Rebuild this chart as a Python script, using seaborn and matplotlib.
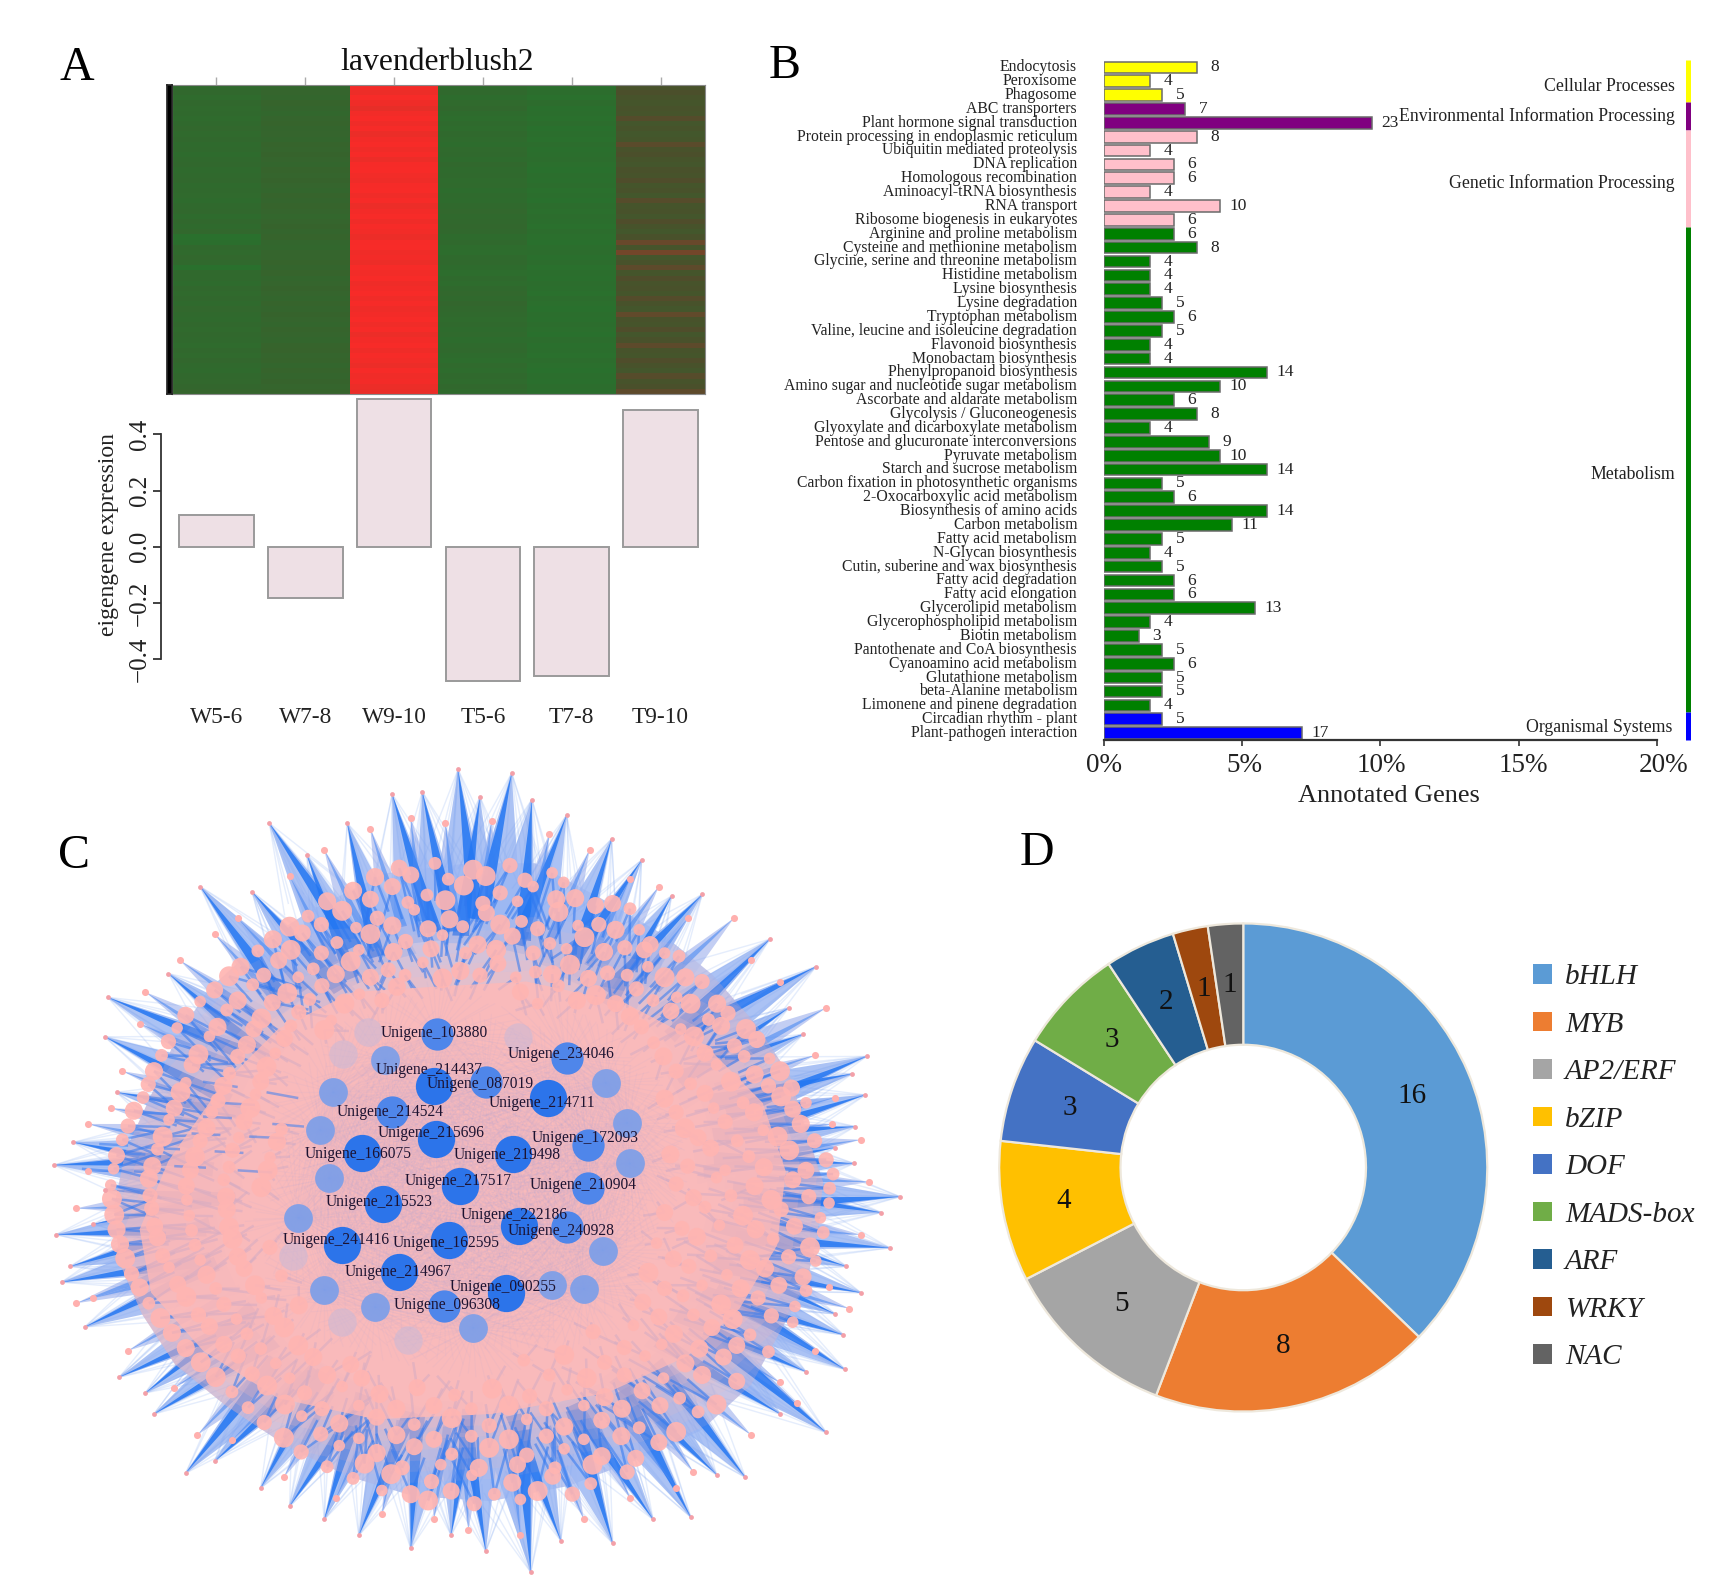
import matplotlib
matplotlib.use("Agg")
import matplotlib.pyplot as plt
from matplotlib.collections import LineCollection, PolyCollection
from matplotlib.colors import LinearSegmentedColormap
from matplotlib.patches import Patch, Polygon
from matplotlib.transforms import ScaledTranslation
import numpy as np
import pandas as pd
import seaborn as sns

W, H = 1720, 1587

# panel A
SAMPLES = ["W5-6", "W7-8", "W9-10", "T5-6", "T7-8", "T9-10"]
EIGENGENE = [0.114, -0.183, 0.528, -0.480, -0.459, 0.489]
HEAT_W56 = [-.62, -.60, -.65, -.59, -.63, -.61, -.65, -.62, -.58, -.63, -.60, -.64, -.61, -.66, -.62, -.60, -.64, -.62, -.60, -.64,
            -.61, -.63, -.66, -.62, -.60, -.66, -.60, -.64, -.58, -.76, -.72, -.60, -.63, -.58, -.61, -.78, -.62, -.62, -.66, -.59,
            -.63, -.60, -.64, -.58, -.61, -.64, -.60, -.63, -.59, -.62, -.65, -.60, -.63, -.57, -.61, -.64, -.60, -.58, -.55, -.52]
HEAT_W78 = [-.56, -.52, -.55, -.50, -.53, -.57, -.52, -.49, -.53, -.51, -.55, -.49, -.52, -.48, -.51, -.54, -.50, -.52, -.48, -.51,
            -.55, -.50, -.53, -.49, -.51, -.56, -.51, -.48, -.53, -.50, -.54, -.57, -.51, -.52, -.49, -.53, -.50, -.55, -.51, -.48,
            -.52, -.55, -.50, -.53, -.48, -.51, -.54, -.49, -.52, -.55, -.50, -.47, -.52, -.49, -.54, -.50, -.53, -.48, -.51, -.49]
HEAT_W910 = [.96, .92, .97, .93, .88, .95, .98, .93, .97, .91, .96, .98, .94, .97, .92, .97, .98, .95, .93, .97,
             .98, .94, .97, .92, .96, .98, .93, .97, .95, .92, .97, .98, .94, .96, .92, .97, .95, .98, .93, .96,
             .98, .94, .97, .93, .96, .98, .94, .97, .92, .96, .98, .93, .97, .95, .92, .97, .94, .96, .92, .90]
HEAT_T56 = [-.66, -.62, -.68, -.63, -.60, -.66, -.69, -.64, -.67, -.62, -.65, -.68, -.63, -.62, -.66, -.60, -.64, -.62, -.65, -.63,
            -.68, -.64, -.66, -.61, -.58, -.62, -.60, -.57, -.60, -.66, -.62, -.67, -.69, -.64, -.61, -.66, -.69, -.64, -.67, -.62,
            -.58, -.61, -.55, -.59, -.62, -.65, -.61, -.66, -.63, -.68, -.64, -.61, -.66, -.69, -.63, -.67, -.62, -.65, -.60, -.63]
HEAT_T78 = [-.74, -.70, -.76, -.68, -.75, -.72, -.76, -.70, -.77, -.73, -.76, -.71, -.75, -.73, -.70, -.74, -.77, -.72, -.75, -.71,
            -.76, -.73, -.77, -.71, -.74, -.70, -.73, -.76, -.71, -.74, -.77, -.73, -.70, -.75, -.71, -.76, -.73, -.75, -.70, -.73,
            -.76, -.71, -.74, -.77, -.72, -.75, -.70, -.74, -.77, -.71, -.75, -.72, -.76, -.70, -.74, -.77, -.72, -.75, -.71, -.73]
HEAT_T910 = [-.08, -.02, -.12, -.16, -.10, -.14, .04, -.18, -.12, -.20, -.16, .08, -.10, -.02, -.14, -.18, -.06, -.12, .02, -.16,
             -.10, -.20, .06, -.14, -.08, -.18, .02, -.12, -.20, -.06, .16, -.14, .22, -.18, -.10, .10, -.16, .02, -.12, -.06,
             -.16, .04, -.10, -.18, .12, -.08, -.14, .02, -.18, -.06, .10, -.12, -.16, .02, -.08, -.18, .06, -.12, -.04, .10]

# panel B
PATHWAYS = [
    "Endocytosis", "Peroxisome", "Phagosome", "ABC transporters", "Plant hormone signal transduction",
    "Protein processing in endoplasmic reticulum", "Ubiquitin mediated proteolysis", "DNA replication",
    "Homologous recombination", "Aminoacyl-tRNA biosynthesis", "RNA transport", "Ribosome biogenesis in eukaryotes",
    "Arginine and proline metabolism", "Cysteine and methionine metabolism", "Glycine, serine and threonine metabolism",
    "Histidine metabolism", "Lysine biosynthesis", "Lysine degradation", "Tryptophan metabolism",
    "Valine, leucine and isoleucine degradation", "Flavonoid biosynthesis", "Monobactam biosynthesis",
    "Phenylpropanoid biosynthesis", "Amino sugar and nucleotide sugar metabolism", "Ascorbate and aldarate metabolism",
    "Glycolysis / Gluconeogenesis", "Glyoxylate and dicarboxylate metabolism", "Pentose and glucuronate interconversions",
    "Pyruvate metabolism", "Starch and sucrose metabolism", "Carbon fixation in photosynthetic organisms",
    "2-Oxocarboxylic acid metabolism", "Biosynthesis of amino acids", "Carbon metabolism", "Fatty acid metabolism",
    "N-Glycan biosynthesis", "Cutin, suberine and wax biosynthesis", "Fatty acid degradation", "Fatty acid elongation",
    "Glycerolipid metabolism", "Glycerophospholipid metabolism", "Biotin metabolism",
    "Pantothenate and CoA biosynthesis", "Cyanoamino acid metabolism", "Glutathione metabolism",
    "beta-Alanine metabolism", "Limonene and pinene degradation", "Circadian rhythm - plant",
    "Plant-pathogen interaction",
]
GENE_COUNTS = [8, 4, 5, 7, 23, 8, 4, 6, 6, 4, 10, 6, 6, 8, 4, 4, 4, 5, 6, 5, 4, 4, 14, 10, 6, 8, 4, 9, 10, 14, 5, 6, 14, 11,
               5, 4, 5, 6, 6, 13, 4, 3, 5, 6, 5, 5, 4, 5, 17]
ANNOTATED_TOTAL = 237
KEGG_CLASSES = ["Cellular Processes", "Environmental Information Processing", "Genetic Information Processing",
                "Metabolism", "Organismal Systems"]
CLASS_SIZES = [3, 2, 7, 35, 2]
CLASS_COLORS = ["#ffff00", "#800080", "#ffc0cb", "#008000", "#0000ff"]

# panel C, node positions
HUB_LABELS = ["103880", "234046", "214437", "087019", "214711", "214524", "215696", "172093", "166075", "219498",
              "217517", "210904", "215523", "222186", "240928", "241416", "162595", "214967", "090255", "096308"]
HUB_X = [705, 930, 700, 790, 897, 628, 703, 968, 575, 838, 745, 967, 612, 848, 930, 540, 727, 640, 825, 718]
HUB_Y = [520, 565, 618, 610, 640, 668, 718, 730, 745, 747, 807, 812, 842, 883, 885, 920, 910, 970, 1010, 1035]
HUB_LABEL_X = [700, 920, 692, 780, 888, 625, 695, 962, 568, 828, 742, 958, 605, 840, 920, 530, 722, 638, 820, 723]
HUB_LABEL_Y = [518, 558, 588, 615, 650, 667, 708, 716, 747, 749, 798, 806, 838, 862, 893, 910, 915, 970, 1000, 1033]
HUB_STRONG = [0, 0, 1, 0, 1, 0, 1, 0, 1, 1, 1, 0, 1, 1, 0, 1, 1, 1, 1, 0]
SIDE_X = [615, 1035, 998, 525, 503, 518, 465, 510, 598, 768, 960, 905, 993, 1040]
SIDE_Y = [568, 688, 612, 630, 702, 793, 868, 1005, 1038, 1077, 1003, 995, 930, 765]
PALE_X = [543, 845, 455, 540, 655, 585]
PALE_Y = [558, 525, 940, 1065, 1100, 515]
TIP_X = [742, 835, 628, 550, 415, 295, 680, 780, 870, 930, 1008, 1060, 1112, 1165, 1282, 1362, 1315, 1340, 1450, 1425, 1448,
         1430, 1395, 1428, 1508, 1475, 1490, 1415, 1440, 1395, 1410, 1412, 1345, 1380, 1300, 1240, 1190, 1145, 1080, 1010,
         920, 868, 790, 730, 660, 570, 510, 450, 400, 320, 270, 215, 200, 155, 95, 55, 70, 45, 110, 130, 42, 75, 150, 130,
         135, 240, 385, 480]
TIP_Y = [18, 25, 65, 120, 120, 240, 60, 70, 75, 105, 150, 190, 258, 255, 340, 392, 470, 520, 562, 595, 635,
         695, 735, 765, 828, 858, 925, 960, 1010, 1050, 1090, 1155, 1160, 1275, 1240, 1360, 1355, 1435, 1440, 1485,
         1480, 1540, 1500, 1470, 1495, 1470, 1440, 1415, 1380, 1330, 1352, 1240, 1200, 1170, 1075, 990, 960, 900, 880, 815,
         768, 725, 630, 525, 450, 405, 250, 180]
SHORT_TIP_X = [590, 660, 720, 800, 900, 970, 1040, 1090, 1140, 1220, 1250, 1300, 1380, 1360, 1395, 1390, 1440, 1455, 1440, 1385, 1420,
               1360, 1300, 1330, 1250, 1150, 1120, 1040, 960, 850, 760, 700, 610, 530, 440, 350, 290, 250, 170, 110, 80, 80, 100,
               100, 140, 160, 190, 200, 260, 320, 360, 450, 510]
SHORT_TIP_Y = [130, 110, 120, 115, 140, 170, 225, 240, 300, 300, 380, 420, 470, 560, 640, 690, 720, 800, 900, 1000, 1040,
               1120, 1180, 1220, 1280, 1350, 1380, 1400, 1440, 1470, 1460, 1440, 1430, 1400, 1360, 1290, 1280, 1190, 1120, 1020, 1030, 850, 780,
               690, 660, 590, 500, 440, 380, 330, 300, 220, 170]
RIM_X = [760, 880, 1000, 1110, 1200, 1280, 1340, 1370, 1400, 1390, 1370, 1320, 1270, 1180, 1060, 940, 800, 660, 540, 430,
         320, 230, 170, 130, 120, 140, 190, 230, 290, 380, 480, 610]
RIM_Y = [170, 170, 240, 310, 390, 490, 590, 700, 800, 900, 1000, 1100, 1200, 1290, 1350, 1400, 1430, 1420, 1380, 1320,
         1240, 1160, 1060, 960, 850, 740, 620, 520, 420, 330, 260, 190]
CORE_X = [700, 860, 1030, 1170, 1270, 1310, 1295, 1230, 1140, 1000, 800, 600, 430, 300, 210, 190, 240, 330, 430, 560]
CORE_Y = [430, 420, 460, 540, 650, 780, 920, 1040, 1130, 1200, 1240, 1250, 1210, 1120, 1010, 890, 760, 620, 510, 440]
DASH_X0 = [190, 300, 160, 280, 380, 230, 330, 200, 320, 150, 420, 250, 360, 300, 410, 180, 120, 90]
DASH_Y0 = [668, 676, 700, 708, 714, 640, 650, 735, 742, 745, 690, 770, 778, 610, 630, 780, 728, 775]
DASH_X1 = [250, 350, 220, 330, 440, 280, 390, 260, 370, 200, 475, 305, 420, 360, 465, 230, 170, 135]
DASH_Y1 = [672, 679, 704, 711, 717, 645, 654, 738, 745, 748, 695, 773, 782, 620, 641, 783, 731, 779]
NODE_XY = [
    (640, 205), (702, 196), (768, 208), (832, 200), (905, 214), (560, 248), (628, 240), (688, 256), (752, 238), (815, 252),
    (872, 240), (945, 262), (1010, 272), (482, 296), (541, 286), (602, 300), (666, 284), (727, 302), (791, 290), (852, 306),
    (916, 288), (986, 312), (1056, 322), (421, 340), (472, 328), (532, 346), (590, 330), (651, 344), (715, 332), (776, 350),
    (836, 334), (901, 348), (961, 336), (1031, 356), (1100, 366), (365, 392), (431, 380), (491, 396), (556, 382), (621, 398),
    (681, 384), (746, 400), (811, 386), (876, 402), (936, 388), (1001, 404), (1071, 392), (1136, 412), (320, 436), (386, 426),
    (446, 442), (506, 428), (571, 444), (636, 430), (850, 440), (916, 428), (981, 446), (1051, 434), (1121, 450), (1191, 462),
    (270, 484), (341, 474), (401, 490), (466, 478), (522, 494), (1040, 486), (1111, 476), (1176, 492), (1241, 510), (240, 534),
    (311, 524), (376, 540), (441, 528), (1081, 536), (1151, 524), (1221, 542), (1282, 566), (215, 590), (281, 578), (346, 594),
    (410, 582), (1120, 590), (1190, 578), (1256, 596), (1320, 622), (196, 640), (261, 630), (326, 646), (391, 634), (1100, 642),
    (1170, 632), (1236, 650), (1302, 638), (170, 694), (241, 682), (306, 698), (371, 686), (436, 700), (1135, 698), (1205, 686),
    (1271, 702), (1336, 690), (150, 750), (221, 738), (286, 752), (351, 740), (416, 754), (1110, 748), (1180, 736), (1246, 752),
    (1316, 740), (1380, 758), (140, 806), (206, 794), (271, 808), (336, 796), (401, 810), (1120, 804), (1190, 792), (1256, 808),
    (1322, 796), (1386, 812), (146, 862), (211, 850), (276, 864), (341, 852), (1100, 858), (1170, 848), (1236, 864), (1302, 852),
    (1370, 868), (156, 918), (221, 906), (286, 920), (351, 908), (416, 924), (1086, 916), (1156, 904), (1222, 920), (1288, 908),
    (1352, 924), (176, 974), (241, 962), (306, 976), (371, 964), (436, 978), (1072, 972), (1142, 960), (1208, 976), (1274, 964),
    (1340, 980), (206, 1030), (271, 1018), (336, 1032), (401, 1020), (466, 1034), (1062, 1028), (1132, 1016), (1198, 1032), (1262, 1020),
    (1326, 1036), (246, 1086), (311, 1074), (376, 1088), (441, 1076), (976, 1084), (1046, 1072), (1116, 1088), (1182, 1076), (1248, 1090),
    (296, 1142), (361, 1130), (426, 1144), (491, 1132), (556, 1146), (856, 1138), (926, 1128), (996, 1142), (1066, 1130), (1136, 1144),
    (1202, 1132), (350, 1198), (411, 1186), (476, 1200), (541, 1188), (606, 1202), (671, 1190), (736, 1204), (801, 1192), (866, 1206),
    (931, 1194), (996, 1208), (1061, 1196), (1126, 1210), (1190, 1222), (406, 1256), (471, 1244), (536, 1258), (601, 1246), (666, 1260),
    (731, 1248), (796, 1262), (861, 1250), (926, 1264), (991, 1252), (1056, 1266), (1120, 1274), (470, 1312), (536, 1300), (601, 1314),
    (666, 1302), (731, 1316), (796, 1304), (861, 1318), (926, 1306), (991, 1320), (1050, 1324), (560, 1362), (626, 1354), (696, 1368),
    (766, 1356), (836, 1370), (906, 1358), (972, 1372), (690, 1404), (770, 1410), (850, 1402),
    (598, 222), (660, 218), (725, 226), (790, 220), (858, 228), (925, 232), (515, 268), (590, 264), (655, 270), (720, 266),
    (785, 272), (845, 268), (912, 264), (980, 276), (1040, 282), (450, 316), (505, 312), (565, 318), (628, 314), (690, 320),
    (750, 316), (815, 312), (880, 320), (950, 314), (1015, 322), (1075, 350), (395, 362), (452, 360), (505, 366), (570, 360),
    (630, 364), (695, 358), (755, 366), (808, 360), (872, 366), (930, 358), (995, 364), (1065, 360), (1125, 372), (345, 410),
    (405, 408), (465, 412), (530, 406), (590, 412), (650, 408), (715, 414), (780, 408), (842, 412), (905, 406), (968, 414),
    (1035, 408), (1100, 412), (1165, 420), (295, 458), (360, 456), (420, 460), (485, 454), (545, 462), (610, 456), (880, 462),
    (948, 456), (1015, 462), (1080, 456), (1145, 462), (1210, 480), (255, 508), (325, 506), (388, 510), (452, 504), (510, 512),
    (1060, 506), (1128, 510), (1198, 504), (1260, 530), (228, 560), (292, 558), (360, 562), (425, 556), (1098, 562), (1170, 556),
    (1238, 562), (1300, 590), (205, 615), (270, 612), (335, 618), (400, 610), (1145, 614), (1215, 610), (1280, 618), (1345, 650),
    (180, 665), (250, 660), (315, 668), (382, 660), (1120, 668), (1185, 660), (1255, 668), (1322, 662), (160, 720), (230, 714),
    (295, 722), (362, 716), (428, 724), (1158, 716), (1226, 722), (1296, 714), (1360, 722), (145, 775), (212, 770), (278, 778),
    (345, 772), (412, 778), (1140, 770), (1205, 778), (1272, 772), (1345, 778), (1392, 785), (142, 832), (208, 826), (272, 834),
    (340, 828), (1150, 830), (1215, 826), (1285, 834), (1350, 828), (1385, 840), (150, 890), (216, 884), (280, 892), (345, 886),
    (1130, 888), (1195, 882), (1258, 890), (1325, 884), (1375, 896), (165, 945), (230, 940), (295, 948), (360, 942), (1115, 946),
    (1180, 940), (1248, 948), (1315, 942), (1362, 950), (190, 1000), (256, 994), (322, 1002), (390, 996), (1100, 1002), (1165, 996),
    (1232, 1002), (1298, 996), (1345, 1006), (226, 1058), (292, 1052), (358, 1060), (422, 1054), (1090, 1056), (1150, 1052), (1218, 1060),
    (1285, 1054), (1322, 1066), (270, 1115), (336, 1108), (400, 1116), (465, 1110), (1030, 1114), (1095, 1108), (1160, 1116), (1225, 1110),
    (1280, 1122), (322, 1170), (385, 1164), (450, 1172), (515, 1166), (575, 1172), (900, 1166), (965, 1172), (1030, 1166), (1098, 1172),
    (1165, 1166), (1225, 1178), (378, 1228), (442, 1222), (506, 1230), (570, 1224), (635, 1230), (700, 1224), (765, 1230), (830, 1224),
    (895, 1230), (960, 1224), (1026, 1230), (1092, 1224), (1158, 1236), (440, 1285), (504, 1278), (570, 1286), (635, 1280), (700, 1288),
    (765, 1282), (830, 1288), (895, 1282), (960, 1288), (1025, 1282), (1090, 1294), (515, 1340), (580, 1334), (645, 1342), (712, 1336),
    (778, 1342), (845, 1336), (910, 1342), (975, 1336), (1035, 1350), (610, 1385), (660, 1392), (730, 1386), (805, 1392), (880, 1386),
    (940, 1392),
]

# panel D
TF_FAMILIES = ["bHLH", "MYB", "AP2/ERF", "bZIP", "DOF", "MADS-box", "ARF", "WRKY", "NAC"]
TF_COUNTS = [16, 8, 5, 4, 3, 3, 2, 1, 1]
TF_COLORS = ["#5b9bd5", "#ed7d31", "#a5a5a5", "#ffc000", "#4472c4", "#70ad47", "#255e91", "#9e480e", "#636363"]

sns.set_theme(style="white")
plt.rcParams["font.family"] = ["Liberation Serif", "DejaVu Serif"]

fig = plt.figure(figsize=(W / 100, H / 100), dpi=100, facecolor="white")


def axes_px(x0, y0, x1, y1):
    return fig.add_axes([x0 / W, 1 - y1 / H, (x1 - x0) / W, (y1 - y0) / H])


def fig_text(x, y, text, **kwargs):
    fig.text(x / W, 1 - y / H, text, **kwargs)


def scaled(points, factor):
    centre = points.mean(axis=0)
    return centre + (points - centre) * factor


def toward(starts, ends, fraction):
    return [[a, a + (b - a) * fraction] for a, b in zip(starts, ends)]


def fan(outer, targets, n_nearest, fraction):
    segments = []
    for tip in outer:
        nearest = targets[np.argsort(np.hypot(*(targets - tip).T))[:n_nearest]]
        segments.extend(toward(np.repeat([tip], n_nearest, axis=0), nearest, fraction))
    return segments


def spikes(outer, centre, fraction, left, right):
    # narrow triangle from the outer node back towards the hub cloud
    triangles = []
    for i, tip in enumerate(outer):
        axis = (centre - tip) * fraction
        normal = np.array([-axis[1], axis[0]])
        side = 1 if i % 2 else -1
        triangles.append([tip, tip + axis + normal * left * side, tip + axis + normal * right * side])
    return triangles


for letter, x, y in [("A", 60, 80), ("B", 769, 78), ("C", 58, 868), ("D", 1020, 865)]:
    fig_text(x, y, letter, fontsize=34.5, color="black", ha="left", va="baseline")

# A: heatmap on top of the eigengene bars
heat_cmap = LinearSegmentedColormap.from_list("module", ["#1f7a2e", "#4c4e2b", "#fa2a28"])
heat = pd.DataFrame({"W5-6": HEAT_W56, "W7-8": HEAT_W78, "W9-10": HEAT_W910, "T5-6": HEAT_T56,
                     "T7-8": HEAT_T78, "T9-10": HEAT_T910})
ax_heat = axes_px(172, 85, 705, 394)
sns.heatmap(heat, ax=ax_heat, cmap=heat_cmap, vmin=-1, vmax=1, cbar=False, xticklabels=False, yticklabels=False)
ax_heat.xaxis.tick_top()
ax_heat.set_xticks(np.arange(len(SAMPLES)) + 0.5)
ax_heat.tick_params(axis="x", length=5.5, width=1, color="#aaaaaa", top=True, bottom=False, labeltop=False)
for spine in ax_heat.spines.values():
    spine.set_visible(True)
    spine.set_color("#8a8a8a")
    spine.set_linewidth(0.8)
ax_strip = axes_px(167, 85, 172, 394)
ax_strip.set_facecolor("black")
ax_strip.set_xticks([])
ax_strip.set_yticks([])
fig_text(437, 62, "lavenderblush2", fontsize=22.8, ha="center", va="center", color="#111111")

ax_bar = axes_px(172, 398, 705, 682)
sns.barplot(x=SAMPLES, y=EIGENGENE, ax=ax_bar, color="#eee0e5", saturation=1, width=0.84, edgecolor="#9a9a9a", linewidth=1.4)
sns.despine(ax=ax_bar, top=True, right=True, bottom=True, left=False)
ax_bar.spines["left"].set_position(("outward", 8))
ax_bar.set_xlim(-0.5, 5.5)
ax_bar.set_ylim(-0.482, 0.53)
ax_bar.set_yticks([-0.4, -0.2, 0.0, 0.2, 0.4])
ax_bar.set_yticklabels(["\u22120.4", "\u22120.2", "0.0", "0.2", "0.4"], rotation=90, va="center", fontsize=18, color="#222222")
ax_bar.tick_params(axis="y", left=True, length=5.5, width=1.3, color="#333333", pad=1.5)
ax_bar.tick_params(axis="x", bottom=False, length=0, pad=18, labelsize=16.8, labelcolor="#222222")
ax_bar.spines["left"].set_bounds(-0.4, 0.4)
ax_bar.spines["left"].set_color("#333333")
ax_bar.spines["left"].set_linewidth(1.3)
ax_bar.patch.set_alpha(0)
fig_text(108, 535, "eigengene expression", fontsize=17, rotation=90, ha="center", va="center", color="#222222")

# B: KEGG classes
pathway_class = [name for name, n in zip(KEGG_CLASSES, CLASS_SIZES) for _ in range(n)]
kegg = pd.DataFrame({"pathway": PATHWAYS, "count": GENE_COUNTS, "kegg_class": pathway_class})
kegg["pct"] = kegg["count"] / ANNOTATED_TOTAL * 100

ax_kegg = axes_px(1103.5, 60.4, 1657, 740)
sns.barplot(data=kegg, y="pathway", x="pct", hue="kegg_class", hue_order=KEGG_CLASSES, palette=CLASS_COLORS,
            dodge=False, width=0.84, saturation=1, edgecolor="#6a6a6a", linewidth=1.1, legend=False, ax=ax_kegg)
ax_kegg.set_xlim(0, 20)
ax_kegg.set_ylim(48.5, -0.5)
ax_kegg.set_xticks([0, 5, 10, 15, 20])
ax_kegg.set_xticklabels(["0%", "5%", "10%", "15%", "20%"], fontsize=19.5, color="#222222")
ax_kegg.tick_params(axis="x", bottom=True, length=4.5, width=1.2, color="#333333", pad=5)
ax_kegg.tick_params(axis="y", left=False, length=0, pad=19, labelsize=11.3, labelcolor="#222222")
shift = ScaledTranslation(0, 1.5 / 72, fig.dpi_scale_trans)
for label in ax_kegg.get_yticklabels():
    label.set_transform(label.get_transform() + shift)
for label, nudge in zip(ax_kegg.get_xticklabels(), [0.5, 2, 1, 3.5, 5]):
    label.set_transform(label.get_transform() + ScaledTranslation(nudge / 72, 0, fig.dpi_scale_trans))
ax_kegg.set_ylabel("")
ax_kegg.set_xlabel("Annotated Genes", fontsize=18.9, color="#222222", va="center")
ax_kegg.xaxis.set_label_coords(0.515, -0.082)
sns.despine(ax=ax_kegg, top=True, right=True, left=True)
ax_kegg.spines["bottom"].set_color("#333333")
ax_kegg.spines["bottom"].set_linewidth(1.6)
ax_kegg.patch.set_alpha(0)
for i, count in enumerate(GENE_COUNTS):
    ax_kegg.annotate(str(count), (count / ANNOTATED_TOTAL * 100, i), xytext=(13, 0), textcoords="offset points",
                     ha="center", va="center", fontsize=12.5, color="#222222")

strip_trans = ax_kegg.get_yaxis_transform()
class_label_y = [86.5, 116, 183, 474.5, 727]
class_label_right = [1675, 1675, 1675, 1675, 1672]
start = -0.5
for name, size, color, label_y, label_x in zip(KEGG_CLASSES, CLASS_SIZES, CLASS_COLORS, class_label_y, class_label_right):
    ax_kegg.vlines(1.056, start, start + size, transform=strip_trans, colors=color, linewidth=3.6,
                   clip_on=False, capstyle="butt")
    fig_text(label_x, label_y, name, fontsize=12.75, ha="right", va="center", color="#222222")
    start += size

# C: co-expression network, coordinates in the frame of the reference crop
ax_net = axes_px(30, 760, 930, 1587)
ax_net.set_xlim(0, 1560)
ax_net.set_ylim(1568, 0)
ax_net.axis("off")

hubs = np.column_stack([HUB_X + SIDE_X, HUB_Y + SIDE_Y])
tips = np.column_stack([TIP_X, TIP_Y])
short_tips = np.column_stack([SHORT_TIP_X, SHORT_TIP_Y])
nodes = np.array(NODE_XY)
rim = scaled(np.column_stack([RIM_X, RIM_Y]), 0.96)
core = np.column_stack([CORE_X, CORE_Y])
hub_centre = hubs.mean(axis=0)

rim_patch = Polygon(rim, closed=True, facecolor="#b6c2ee", edgecolor="none", alpha=0.9, zorder=1)
ax_net.add_patch(rim_patch)

# spikes: pale body with a saturated sliver down one side, thin lines over them
ax_net.add_collection(PolyCollection(spikes(short_tips, hub_centre, 0.3, -0.17, 0.17), facecolors="#b4c2f0", edgecolors="none", alpha=0.8, zorder=2))
ax_net.add_collection(PolyCollection(spikes(tips, hub_centre, 0.38, -0.16, 0.18), facecolors="#9db8f3", edgecolors="none", alpha=0.85, zorder=2))
ax_net.add_collection(LineCollection(fan(tips, hubs, 10, 0.3), colors="#7ea6f2", linewidths=1.0, alpha=0.2, zorder=2))
ax_net.add_collection(PolyCollection(spikes(tips, hub_centre, 0.36, 0.04, 0.15), facecolors="#2477f2", edgecolors="none", alpha=0.85, zorder=2.2))
ax_net.add_collection(PolyCollection(spikes(short_tips, hub_centre, 0.28, 0.0, 0.09), facecolors="#4a8af2", edgecolors="none", alpha=0.6, zorder=2.2))

streak_from = []
streak_to = []
for node in nodes:
    order = np.argsort(np.hypot(*(hubs - node).T))
    streak_from.extend([node, node])
    streak_to.extend([hubs[order[0]], hubs[order[3]]])

for factor, alpha in [(1.3, 0.1), (1.25, 0.1), (1.2, 0.12), (1.15, 0.14), (1.1, 0.18), (1.05, 0.22)]:
    halo = Polygon(scaled(core, factor), closed=True, facecolor="#ffbcba", edgecolor="none", alpha=alpha, zorder=3)
    ax_net.add_patch(halo)
    halo.set_clip_path(rim_patch)
ax_net.add_collection(LineCollection(toward(np.array(streak_from), np.array(streak_to), 0.22), colors="#2f78f0", linewidths=1.8,
                                     alpha=0.55, zorder=3.5))
ax_net.add_patch(Polygon(core, closed=True, facecolor="#ffb9b7", edgecolor="none", alpha=0.8, zorder=4))
core_fan = toward(np.tile(hubs, (len(tips), 1)), np.repeat(tips, len(hubs), axis=0), 0.22)
ax_net.add_collection(LineCollection(core_fan, colors="#8b9ee8", linewidths=0.8, alpha=0.06, zorder=4.2))
dashes = np.column_stack([DASH_X0, DASH_Y0, DASH_X1, DASH_Y1]).reshape(-1, 2, 2)
ax_net.add_collection(LineCollection(dashes, colors="#3f80f0", linewidths=1.8, alpha=0.55, zorder=4.6))

node_frame = pd.DataFrame(nodes, columns=["x", "y"])
node_frame["area"] = np.resize([150, 85, 205, 120, 70, 170], len(node_frame))
sns.scatterplot(data=node_frame, x="x", y="y", size="area", sizes=(70, 205), legend=False, color="#ffb5b2", linewidth=0, alpha=0.92,
                ax=ax_net, zorder=5)
sns.scatterplot(x=TIP_X, y=TIP_Y, s=12, color="#f3a0a8", linewidth=0, ax=ax_net, zorder=5)
sns.scatterplot(x=SHORT_TIP_X, y=SHORT_TIP_Y, s=26, color="#ffb0ae", linewidth=0, ax=ax_net, zorder=5)
sns.scatterplot(x=PALE_X, y=PALE_Y, s=420, color="#c9b9d8", linewidth=0, alpha=0.55, ax=ax_net, zorder=6)
sns.scatterplot(x=SIDE_X, y=SIDE_Y, s=430, color="#7f9fe8", linewidth=0, alpha=0.95, ax=ax_net, zorder=6)

hub_frame = pd.DataFrame({"x": HUB_X, "y": HUB_Y, "strong": HUB_STRONG})
weak = hub_frame[hub_frame["strong"] == 0]
strong = hub_frame[hub_frame["strong"] == 1]
sns.scatterplot(data=weak, x="x", y="y", s=540, color="#4f86ea", linewidth=0, ax=ax_net, zorder=7)
sns.scatterplot(data=strong, x="x", y="y", s=720, color="#2c74ea", linewidth=0, ax=ax_net, zorder=7)
ax_net.set_xlabel("")
ax_net.set_ylabel("")
ax_net.set_xlim(0, 1560)
ax_net.set_ylim(1568, 0)
for name, x, y in zip(HUB_LABELS, HUB_LABEL_X, HUB_LABEL_Y):
    ax_net.text(x, y, "Unigene_" + name, fontsize=11.2, ha="center", va="center", color="#1c1230", zorder=8)

# D: transcription factor families
ax_pie = axes_px(998, 922, 1488.5, 1413)
wedges, pie_texts = ax_pie.pie(TF_COUNTS, colors=TF_COLORS, labels=TF_COUNTS, labeldistance=0.75, startangle=90, counterclock=False,
                               radius=1, wedgeprops={"width": 0.497, "edgecolor": "#eee8dc", "linewidth": 1.6})
for text in pie_texts:
    text.set_ha("center")
    text.set_va("center")
    text.set_fontsize(21)
    text.set_color("#111111")
ax_pie.set_xlim(-1.005, 1.005)
ax_pie.set_ylim(-1.005, 1.005)

handles = [Patch(facecolor=c, edgecolor="none", label=name) for c, name in zip(TF_COLORS, TF_FAMILIES)]
fig.legend(handles=handles, loc="upper left", bbox_to_anchor=(1533 / W, 1 - 964 / H), bbox_transform=fig.transFigure,
           frameon=False, ncol=1, borderpad=0, borderaxespad=0, handlelength=0.66, handleheight=0.66, handletextpad=0.44,
           labelspacing=0.735, prop={"size": 21, "style": "italic", "family": "Liberation Serif"}, labelcolor="#222222")

fig.savefig("out.png", dpi=100, facecolor="white")
